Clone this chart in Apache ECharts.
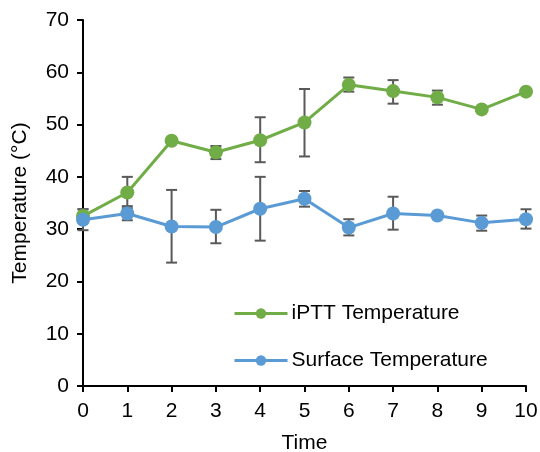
<!DOCTYPE html>
<html>
<head>
<meta charset="utf-8">
<script src="https://cdn.jsdelivr.net/npm/echarts@6/dist/echarts.min.js"></script>
<style>
  html, body { margin: 0; padding: 0; background: #fff; }
  #chart { width: 540px; height: 452px; }
</style>
</head>
<body>
<div id="chart"></div>
<script>
// Time points
const times = [0, 1, 2, 3, 4, 5, 6, 7, 8, 9, 10];

// iPTT temperature: mean and error range
const ipttMean = [32.5, 37.0, 46.9, 44.7, 47.0, 50.4, 57.6, 56.4, 55.2, 52.9, 56.3];
const ipttLow  = [31.2, 34.0, 46.9, 43.4, 42.8, 43.9, 56.3, 54.0, 53.8, 52.9, 56.3];
const ipttHigh = [33.8, 40.0, 46.9, 45.9, 51.4, 56.8, 59.0, 58.5, 56.5, 52.9, 56.3];

// Surface temperature: mean and error range
const surfMean = [31.8, 33.0, 30.5, 30.4, 33.9, 35.8, 30.3, 33.0, 32.6, 31.2, 31.9];
const surfLow  = [29.8, 31.7, 23.6, 27.3, 27.8, 34.3, 28.8, 29.9, 32.6, 29.7, 30.1];
const surfHigh = [33.8, 34.4, 37.5, 33.7, 40.0, 37.3, 31.9, 36.2, 32.6, 32.6, 33.8];

const yTicks = { min: 0, max: 70, interval: 10 };
const xTicks = { min: 0, max: 10, interval: 1 };

const GREEN = '#70AD47';
const BLUE = '#5B9BD5';
const FONT = 'Liberation Sans, Arial, sans-serif';
const FS = 21;

function errorData(low, high) {
  return times.map((t, i) => [t, low[i], high[i]]);
}

// Vertical error bar with short caps at both ends
function errorRender(params, api) {
  const x = api.value(0);
  const lo = api.coord([x, api.value(1)]);
  const hi = api.coord([x, api.value(2)]);
  if (Math.abs(lo[1] - hi[1]) < 1) return null;
  const half = 5.5;
  const style = { stroke: '#595959', lineWidth: 2 };
  return {
    type: 'group',
    children: [
      { type: 'line', shape: { x1: hi[0], y1: hi[1], x2: lo[0], y2: lo[1] }, style },
      { type: 'line', shape: { x1: hi[0] - half, y1: hi[1], x2: hi[0] + half, y2: hi[1] }, style },
      { type: 'line', shape: { x1: lo[0] - half, y1: lo[1], x2: lo[0] + half, y2: lo[1] }, style }
    ]
  };
}

function lineSeries(name, mean, color) {
  return {
    name,
    type: 'line',
    data: times.map((t, i) => [t, mean[i]]),
    symbol: 'circle',
    symbolSize: 14,
    lineStyle: { color, width: 3 },
    itemStyle: { color },
    z: 3
  };
}

const chart = echarts.init(document.getElementById('chart'), null, { renderer: 'canvas' });

chart.setOption({
  animation: false,
  backgroundColor: '#fff',
  textStyle: { fontFamily: FONT },
  grid: { left: 83, right: 14, top: 20, bottom: 66, containLabel: false, outerBoundsMode: 'none' },
  legend: {
    orient: 'vertical',
    left: 228,
    top: 298,
    itemWidth: 53,
    itemHeight: 13,
    itemGap: 26,
    lineStyle: { width: 3 },
    data: ['iPTT Temperature', 'Surface Temperature'],
    textStyle: { fontFamily: FONT, fontSize: FS, color: '#000', padding: [0, 0, 0, -1] }
  },
  xAxis: {
    type: 'value',
    min: xTicks.min, max: xTicks.max, interval: xTicks.interval,
    name: 'Time',
    nameLocation: 'middle',
    nameGap: 47,
    nameTextStyle: { fontFamily: FONT, fontSize: FS, color: '#000' },
    axisLine: { show: true, lineStyle: { color: '#000', width: 2 } },
    axisTick: { show: true, length: 6, lineStyle: { color: '#000', width: 2 } },
    axisLabel: { fontFamily: FONT, fontSize: FS, color: '#000', margin: 15 },
    splitLine: { show: false }
  },
  yAxis: {
    type: 'value',
    min: yTicks.min, max: yTicks.max, interval: yTicks.interval,
    name: 'Temperature (°C)',
    nameLocation: 'middle',
    nameGap: 52,
    nameTextStyle: { fontFamily: FONT, fontSize: FS, color: '#000' },
    axisLine: { show: true, lineStyle: { color: '#000', width: 2 } },
    axisTick: { show: true, length: 6, lineStyle: { color: '#000', width: 2 } },
    axisLabel: { fontFamily: FONT, fontSize: FS, color: '#000', margin: 14 },
    splitLine: { show: false }
  },
  series: [
    lineSeries('iPTT Temperature', ipttMean, GREEN),
    lineSeries('Surface Temperature', surfMean, BLUE),
    {
      type: 'custom',
      name: 'iPTT error',
      data: errorData(ipttLow, ipttHigh),
      renderItem: errorRender,
      encode: { x: 0, y: [1, 2] },
      z: 2,
      silent: true
    },
    {
      type: 'custom',
      name: 'Surface error',
      data: errorData(surfLow, surfHigh),
      renderItem: errorRender,
      encode: { x: 0, y: [1, 2] },
      z: 2,
      silent: true
    }
  ]
});
</script>
</body>
</html>
